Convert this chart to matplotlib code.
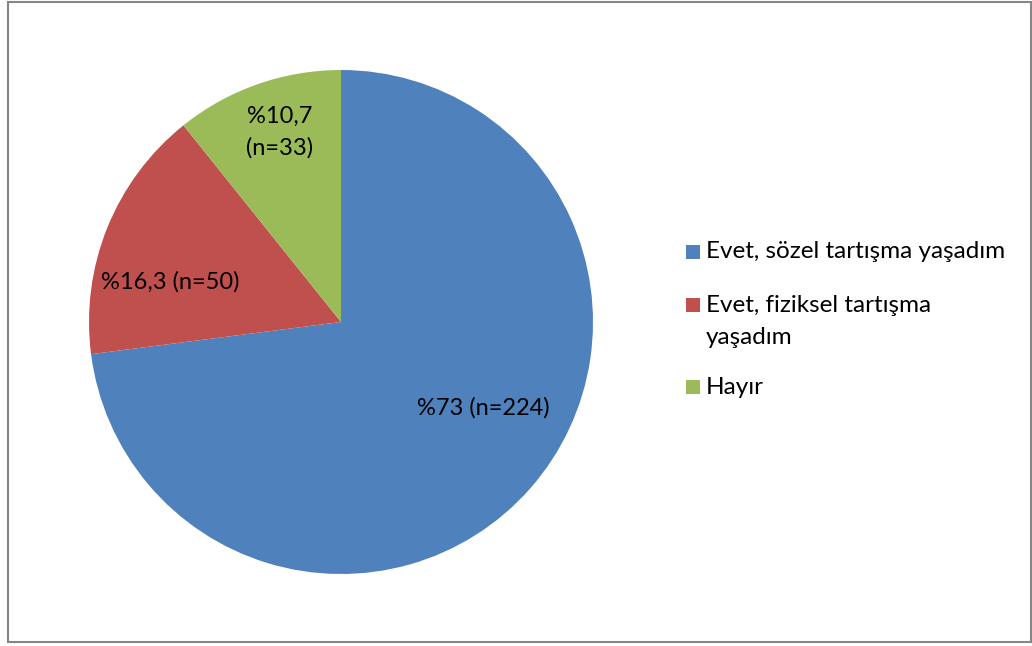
import matplotlib
matplotlib.use("Agg")
import matplotlib.pyplot as plt
from matplotlib.patches import Rectangle

categories = ["Evet, sözel tartışma yaşadım", "Evet, fiziksel tartışma\nyaşadım", "Hayır"]
counts = [224, 50, 33]
percent_labels = ["%73 (n=224)", "%16,3 (n=50)", "%10,7\n(n=33)"]
colors = ["#4F81BD", "#C0504D", "#9BBB59"]

plt.rcParams['font.family'] = ['Lato', 'DejaVu Sans']
W, H = 1032, 646
fig = plt.figure(figsize=(W / 100, H / 100), dpi=100)
fig.patch.set_facecolor("white")

# outer frame
fig.patches.append(Rectangle((8 / W, 4 / H), (W - 9) / W, (H - 6) / H, transform=fig.transFigure,
                             fill=False, edgecolor="#868686", linewidth=1.5))

cx, cy, r = 341, 322, 252
ax = fig.add_axes([(cx - r) / W, (H - cy - r) / H, 2 * r / W, 2 * r / H])
wedges, _ = ax.pie(counts, colors=colors, startangle=90, counterclock=False, radius=1,
                   wedgeprops=dict(linewidth=0))
ax.set_xlim(-1, 1)
ax.set_ylim(-1, 1)
ax.set_aspect("equal")
ax.axis("off")

label_pos = [(0.563, -0.341), (-0.679, 0.159), (-0.242, 0.754)]
for (x, y), t in zip(label_pos, percent_labels):
    ax.text(x, y, t, ha="center", va="center", fontsize=17, color="black", linespacing=1.6)

# legend
line_h = 33
leg_y = [252, 321.5, 387]
for yy, lab, c in zip(leg_y, categories, colors):
    n = lab.count("\n") + 1
    first = yy - (n - 1) * line_h / 2
    fig.patches.append(Rectangle((686 / W, (H - first - 7) / H), 14 / W, 14 / H,
                                 transform=fig.transFigure, facecolor=c, edgecolor="none"))
    fig.text(706 / W, (H - yy) / H, lab, ha="left", va="center",
             fontsize=17.5, linespacing=1.6, transform=fig.transFigure)

fig.savefig("out.png", dpi=100)
